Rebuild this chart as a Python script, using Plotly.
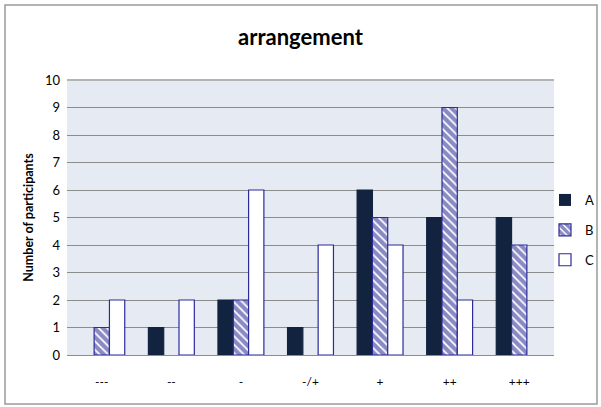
import plotly.graph_objects as go

categories = ["---", "--", "-", "-/+", "+", "++", "+++"]
series_a = [0, 1, 2, 1, 6, 5, 5]
series_b = [1, 0, 2, 0, 5, 9, 4]
series_c = [2, 2, 6, 4, 4, 2, 0]

navy = "#12233f"
edge = "#2b2b9a"
font_family = "Lato, 'Open Sans', sans-serif"


def outline(values, width=1.2):
    # no outline on empty bars, so zero counts stay invisible
    return [width if v else 0 for v in values]


fig = go.Figure()
fig.add_trace(go.Bar(
    name="A", x=categories, y=series_a, legendgroup="A",
    marker=dict(color=navy, line=dict(color=navy, width=outline(series_a))),
))
fig.add_trace(go.Bar(
    name="B", x=categories, y=series_b, legendgroup="B",
    marker=dict(color="white", line=dict(color=edge, width=outline(series_b)),
                pattern=dict(shape="\\", fgcolor="#14148a", bgcolor="white",
                             size=6, solidity=0.7)),
))
fig.add_trace(go.Bar(
    name="C", x=categories, y=series_c, legendgroup="C",
    marker=dict(color="white", line=dict(color=edge, width=outline(series_c))),
))

W, H = 601, 407
ml, mr, mt, mb = 67, 47, 80, 52
pw, ph = W - ml - mr, H - mt - mb


def px_x(p):
    return (p - ml) / pw


def px_y(p):
    return (H - mb - p) / ph


fig.update_layout(
    width=W, height=H,
    margin=dict(l=ml, r=mr, t=mt, b=mb, autoexpand=False),
    paper_bgcolor="white",
    plot_bgcolor="#e6ebf3",
    barmode="group",
    bargap=0.34,
    bargroupgap=0,
    font=dict(family=font_family, color="#000000", size=12),
    title=dict(text="<b>arrangement</b>", x=0.5, xanchor="center",
               y=1 - 37 / H, yanchor="middle",
               font=dict(size=22, family=font_family)),
    legend=dict(xref="container", yref="container",
                x=599 / W, y=1 - 185 / H, xanchor="right", yanchor="top",
                font=dict(size=13), tracegroupgap=10, itemwidth=30,
                bgcolor="rgba(0,0,0,0)"),
    xaxis=dict(showgrid=False, showline=True, linecolor="#8c8c8c", linewidth=1,
               ticks="", ticklabelstandoff=16, tickfont=dict(size=12)),
    yaxis=dict(range=[0, 10], dtick=1, showgrid=True, gridcolor="#8c8c8c",
               gridwidth=1, zeroline=False, showline=False, ticks="",
               ticklabelstandoff=6, tickfont=dict(size=13),
               title=dict(text="<b>Number of participants</b>",
                          font=dict(size=12.5), standoff=8)),
    shapes=[
        dict(type="line", xref="paper", yref="paper", x0=0, x1=1, y0=1, y1=1,
             line=dict(color="#b4b4b4", width=2)),
        dict(type="rect", xref="paper", yref="paper",
             x0=px_x(5), x1=px_x(597), y0=px_y(5), y1=px_y(404),
             line=dict(color="#9a9a9a", width=1.5), layer="below"),
    ],
)

fig.write_html("out.html")
